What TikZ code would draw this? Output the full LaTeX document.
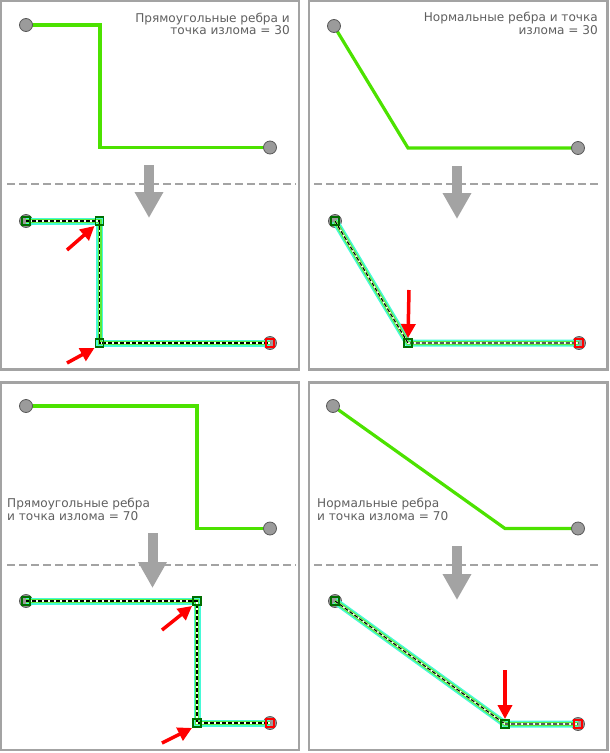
\documentclass[tikz,border=0pt]{standalone}
\usepackage{fontspec}
\setmainfont{DejaVu Sans}
\usetikzlibrary{arrows.meta,positioning}
\definecolor{panelgray}{RGB}{163,163,163}
\definecolor{linegreen}{RGB}{76,226,0}
\definecolor{glowcyan}{RGB}{70,250,215}
\definecolor{glowgreen}{RGB}{90,235,60}
\definecolor{vertgreen}{RGB}{0,110,0}
\definecolor{dotgray}{RGB}{155,155,155}
\definecolor{textgray}{RGB}{95,95,95}
\tikzset{
    panel/.style={draw=panelgray, line width=2.5pt},
    divider/.style={draw=panelgray, line width=2.6pt, dash pattern=on 8pt off 4pt},
    edge/.style={draw=linegreen, line width=3.2pt, line join=miter},
    sketched/.style={draw=glowcyan, line width=7pt, line join=miter,
        postaction={draw=glowgreen, line width=4pt,
        postaction={draw=white, line width=1.6pt,
        postaction={draw=black, line width=1.1pt, dash pattern=on 4pt off 2pt}}}},
    endpt/.style={circle, draw=black!65, fill=dotgray, line width=0.8pt, minimum size=13pt, inner sep=0pt},
    vertbox/.style={rectangle, draw=vertgreen, line width=1.9pt, minimum size=8pt, inner sep=0pt},
    lastbox/.style={vertbox, draw=red},
    bigarrow/.style={draw=panelgray, line width=10pt, -{Triangle[width=27pt, length=26pt]}},
    redarrow/.style={draw=red, line width=3.5pt, -{Triangle[width=14pt, length=14pt]}},
    infotext/.style={text=textgray, inner sep=0pt, font=\fontsize{12.1}{12.7}\selectfont}
}
\begin{document}
\begin{tikzpicture}[x=1pt, y=-1pt]
    \useasboundingbox (0,0) rectangle (610,753);
    \draw[panel] (1,1) rectangle (299,369.5);
    \draw[panel] (309,1) rectangle (607.5,369.5);
    \draw[panel] (1,382.5) rectangle (299,750);
    \draw[panel] (309,382.5) rectangle (607.5,750);

    \node[infotext, anchor=north east, align=right] (rectTextA) at (290,12.5) {Прямоугольные ребра и\\точка излома = 30};
    \node[infotext, anchor=north east, align=right] (normTextA) at (598,12) {Нормальные ребра и точка\\излома = 30};
    \node[infotext, anchor=north west, align=left] (rectTextB) at (7,498) {Прямоугольные ребра\\и точка излома = 70};
    \node[infotext, anchor=north west, align=left] (normTextB) at (317,498) {Нормальные ребра\\и точка излома = 70};

    % before
    \coordinate (ra1) at (26,25);
    \coordinate (ra2) at (100,25);
    \coordinate (ra3) at (100,147.5);
    \coordinate (ra4) at (270,147.5);
    \coordinate (na1) at (334,26);
    \coordinate (na2) at (408,148);
    \coordinate (na3) at (578,148);
    \coordinate (rb1) at (26,406);
    \coordinate (rb2) at (197,406);
    \coordinate (rb3) at (197,528.5);
    \coordinate (rb4) at (270,528.5);
    \coordinate (nb1) at (333,406);
    \coordinate (nb2) at (505,528.5);
    \coordinate (nb3) at (578,528.5);

    \path[edge] (ra1) -- (ra2) -- (ra3) -- (ra4);
    \path[edge] (na1) -- (na2) -- (na3);
    \path[edge] (rb1) -- (rb2) -- (rb3) -- (rb4);
    \path[edge] (nb1) -- (nb2) -- (nb3);
    \node[endpt] at (ra1) {};
    \node[endpt] at (ra4) {};
    \node[endpt] at (na1) {};
    \node[endpt] at (na3) {};
    \node[endpt] at (rb1) {};
    \node[endpt] at (rb4) {};
    \node[endpt] at (nb1) {};
    \node[endpt] at (nb3) {};

    \path[divider] (7,184) -- (296,184);
    \path[divider] (314,184) -- (601,184);
    \path[divider] (7,565) -- (296,565);
    \path[divider] (314,565) -- (601,565);

    \coordinate (rFromA) at (149,165);
    \coordinate (rToA) at (149,218);
    \coordinate (nFromA) at (457,166);
    \coordinate (nToA) at (457,219);
    \coordinate (rFromB) at (152.5,533);
    \coordinate (rToB) at (152.5,588);
    \coordinate (nFromB) at (457,546);
    \coordinate (nToB) at (457,600);
    \path[bigarrow] (rFromA) -- (rToA);
    \path[bigarrow] (nFromA) -- (nToA);
    \path[bigarrow] (rFromB) -- (rToB);
    \path[bigarrow] (nFromB) -- (nToB);

    % after
    \coordinate (rc1) at (26,221);
    \coordinate (rc2) at (99.5,221);
    \coordinate (rc3) at (99.5,343);
    \coordinate (rc4) at (270,343);
    \coordinate (nc1) at (335,221);
    \coordinate (nc2) at (408,343);
    \coordinate (nc3) at (579,343);
    \coordinate (rd1) at (26,601);
    \coordinate (rd2) at (197,601);
    \coordinate (rd3) at (197,723);
    \coordinate (rd4) at (270,723);
    \coordinate (nd1) at (335,601);
    \coordinate (nd2) at (505,724);
    \coordinate (nd3) at (578,724);

    \node[endpt] at (rc1) {};
    \node[endpt] at (rc4) {};
    \node[endpt] at (nc1) {};
    \node[endpt] at (nc3) {};
    \node[endpt] at (rd1) {};
    \node[endpt] at (rd4) {};
    \node[endpt] at (nd1) {};
    \node[endpt] at (nd3) {};
    \path[sketched] (rc1) -- (rc2) -- (rc3) -- (rc4);
    \path[sketched] (nc1) -- (nc2) -- (nc3);
    \path[sketched] (rd1) -- (rd2) -- (rd3) -- (rd4);
    \path[sketched] (nd1) -- (nd2) -- (nd3);
    \node[vertbox] (rcv1) at (rc1) {};
    \node[vertbox] (rcv2) at (rc2) {};
    \node[vertbox] (rcv3) at (rc3) {};
    \node[lastbox] (rcv4) at (rc4) {};
    \node[vertbox] (ncv1) at (nc1) {};
    \node[vertbox] (ncv2) at (nc2) {};
    \node[lastbox] (ncv3) at (nc3) {};
    \node[vertbox] (rdv1) at (rd1) {};
    \node[vertbox] (rdv2) at (rd2) {};
    \node[vertbox] (rdv3) at (rd3) {};
    \node[lastbox] (rdv4) at (rd4) {};
    \node[vertbox] (ndv1) at (nd1) {};
    \node[vertbox] (ndv2) at (nd2) {};
    \node[lastbox] (ndv3) at (nd3) {};

    \coordinate (pinC1) at (67,250);
    \coordinate (pinC2) at (67,363);
    \coordinate (pinC3) at (409,290);
    \coordinate (pinD1) at (162,630);
    \coordinate (pinD2) at (162,743);
    \coordinate (pinD3) at (505,670);
    \path[redarrow] (pinC1) -- (rcv2.south west);
    \path[redarrow] (pinC2) -- (rcv3.south west);
    \path[redarrow] (pinC3) -- (ncv2.north);
    \path[redarrow] (pinD1) -- (rdv2.south west);
    \path[redarrow] (pinD2) -- (rdv3.south west);
    \path[redarrow] (pinD3) -- (ndv2.north);
\end{tikzpicture}
\end{document}
